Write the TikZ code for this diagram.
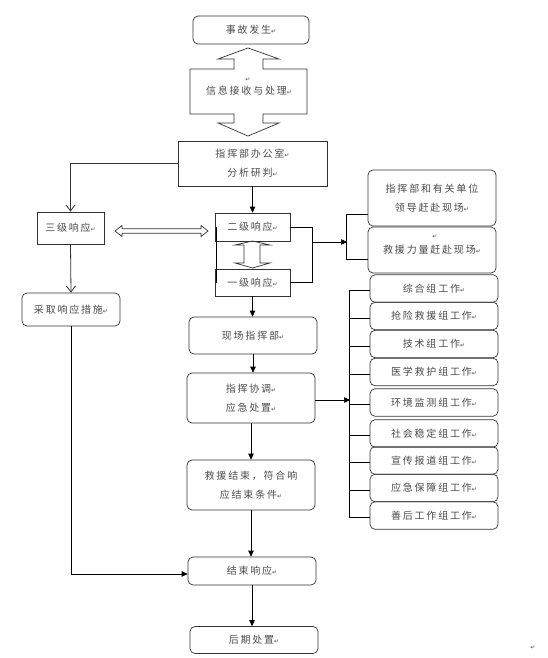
\documentclass[tikz,border=0pt]{standalone}
\usepackage{fontspec}
\usetikzlibrary{arrows.meta, calc}
\newfontfamily\cjk[LetterSpace=18]{Noto Sans CJK SC}
\newfontfamily\symfont{DejaVu Sans}
\definecolor{kline}{HTML}{333333}
\definecolor{ktext}{HTML}{4A4A4A}
\newcommand\pmark{{\symfont\fontsize{6}{6}\selectfont ↵}}

\begin{document}
\begin{tikzpicture}[x=1pt, y=-1pt,
  every node/.style={font=\cjk\fontsize{10}{19}\selectfont, text=ktext, align=center, inner sep=0pt},
  sqbox/.style={draw=kline, line width=0.7pt},
  rdbox/.style={draw=kline, line width=0.7pt, rounded corners=5pt},
  arr/.style={draw=black, line width=0.7pt, -{Triangle[length=6pt,width=5.5pt]}},
  oarr/.style={draw=kline, line width=0.8pt, -{Straight Barb[length=6pt,width=9pt]}},
  link/.style={draw=black, line width=0.7pt},
  blockarr/.style={draw=kline, line width=0.7pt}]
\useasboundingbox (0,0) rectangle (547,658);

% top of the chart
\node[rdbox, minimum width=116pt, minimum height=28pt] (accident) at (251,30) {事故发生\pmark};
\draw[blockarr] (248,48) -- (279,59) -- (263,59) -- (263,69) -- (307,69) -- (307,114)
  -- (263,114) -- (263,123) -- (279,123) -- (248,136) -- (218,123) -- (234,123) -- (234,114)
  -- (190,114) -- (190,69) -- (234,69) -- (234,59) -- (218,59) -- cycle;
\node (infomark) at (248,80) {\pmark};
\node (info) at (249,91) {信息接收与处理\pmark};
\node[sqbox, minimum width=149pt, minimum height=45pt] (office) at (252.5,163.5) {指挥部办公室\pmark\\分析研判\pmark};

% response levels
\node[sqbox, minimum width=67pt, minimum height=32pt] (level3) at (70.5,228) {三级响应\pmark};
\node[sqbox, minimum width=75pt, minimum height=28pt] (level2) at (252.5,227) {二级响应\pmark};
\node[sqbox, minimum width=75pt, minimum height=27pt] (level1) at (252.5,282.5) {一级响应\pmark};
\node[rdbox, minimum width=98pt, minimum height=33pt] (measures) at (71,309.5) {采取响应措施\pmark};
\draw[blockarr] (115,231) -- (122,225.5) -- (122,228.8) -- (201,228.8) -- (201,225.5) -- (208,231)
  -- (201,236.5) -- (201,233.2) -- (122,233.2) -- (122,236.5) -- cycle;
\draw[blockarr] (235,245) -- (252.5,241) -- (270,245) -- (260,245) -- (260,263) -- (270,263)
  -- (252.5,268) -- (235,263) -- (244,263) -- (244,245) -- cycle;

% arrival at the scene
\node[rdbox, minimum width=128pt, minimum height=56pt] (leaders) at (432,198) {指挥部和有关单位\\领导赶赴现场\pmark};
\node[rdbox, minimum width=128pt, minimum height=46pt] (force) at (432,250) {救援力量赶赴现场\pmark};
\node (forcemark) at (435,237) {\pmark};

% main column
\node[rdbox, minimum width=128pt, minimum height=37pt] (sitecmd) at (253,335.5) {现场指挥部\pmark};
\node[rdbox, minimum width=128pt, minimum height=50pt] (coord) at (251,398) {指挥协调\pmark\\应急处置\pmark};
\node[rdbox, minimum width=128pt, minimum height=50pt] (endcond) at (251,485) {救援结束，符合响\\应结束条件\pmark};
\node[rdbox, minimum width=128pt, minimum height=28pt] (endresp) at (252,571) {结束响应\pmark};
\node[rdbox, minimum width=128pt, minimum height=27pt] (post) at (254,640) {后期处置\pmark};
\node (endmark) at (533,648) {\pmark};

% working groups
\foreach \i/\y/\txt in {1/288.5/综合组工作, 2/316/抢险救援组工作, 3/344/技术组工作,
    4/372/医学救护组工作, 5/402.5/环境监测组工作, 6/433.5/社会稳定组工作,
    7/460.5/宣传报道组工作, 8/488/应急保障组工作, 9/515.5/善后工作组工作}
  \node[rdbox, minimum width=128pt, minimum height=27.5pt] (g\i) at (434,\y) {\txt\pmark};

% connectors
\draw[oarr] (office.west) -| (level3.north);
\draw[arr] (office.south) -- (level2.north);
\draw[link] ([xshift=2pt]level2.west) -- ([xshift=2pt]level1.west);
\draw[link] (level2.east) -- ++(22,0) |- (level1.east);
\coordinate (jn) at (312,242);
\coordinate (lbar) at (347,242);
\draw[arr] (jn) -- (lbar);
\draw[link] ([yshift=-16pt]leaders.west) -- ++(-21,0) |- ([yshift=-9pt]force.west);
\draw[oarr] (level3.south) -- (measures.north);
\draw[arr] (level1.south) -- (level1.south |- sitecmd.north);
\draw[arr] (sitecmd.south) -- (sitecmd.south |- coord.north);
\draw[arr] (coord.south) -- (endcond.north);
\draw[arr] (endcond.south) -- (endcond.south |- endresp.north);
\draw[arr] (endresp.south) -- (endresp.south |- post.north);
\draw[arr] (measures.south) |- ([yshift=-3pt]endresp.west);
\coordinate (gbar) at (350,396);
\draw[arr] ([yshift=-2pt]coord.east) -- ([yshift=-2pt]coord.east -| gbar);
\draw[link] ([yshift=-2pt]g1.west) -- ++(-20,0) |- ([yshift=-2pt]g9.west);
\foreach \i in {2,...,8}
  \draw[link] ([yshift=-2pt]g\i.west) -- ++(-20,0);
\end{tikzpicture}
\end{document}
